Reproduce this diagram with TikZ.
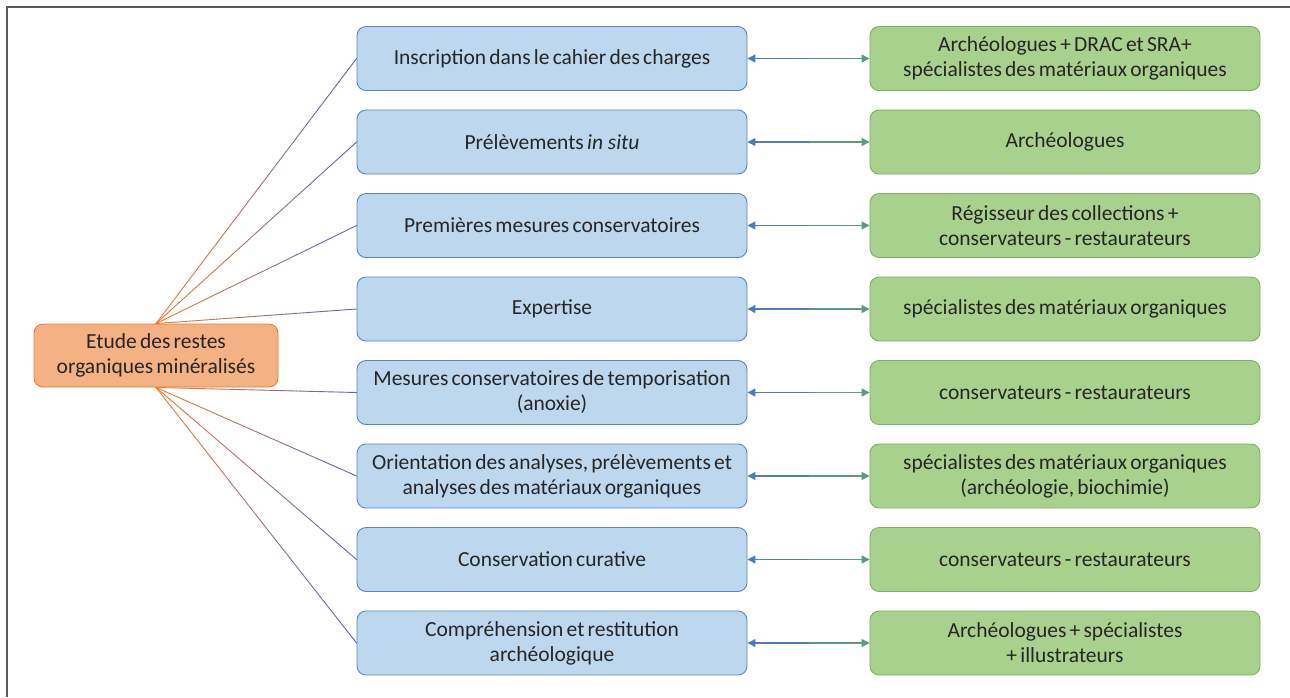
\documentclass[tikz,border=0pt]{standalone}
\usepackage{fontspec}
\setmainfont{Carlito}
\usetikzlibrary{calc,arrows.meta}
\definecolor{txt}{HTML}{262626}
\definecolor{bfill}{HTML}{BDD7EE}
\definecolor{bdraw}{HTML}{5B86B8}
\definecolor{gfill}{HTML}{A9D18E}
\definecolor{gdraw}{HTML}{7FAF5A}
\definecolor{ofill}{HTML}{F4B183}
\definecolor{odraw}{HTML}{ED7D31}
\definecolor{fanO}{HTML}{ED7D31}
\definecolor{fanB}{HTML}{5068C0}
\definecolor{ablue}{HTML}{4A7EBB}
\definecolor{agreen}{HTML}{5A9C7C}
\definecolor{frame}{HTML}{5A5A5A}
\newcommand\gradline[2]{%
  \foreach \i in {0,...,19}{%
    \pgfmathsetmacro\p{100-\i*5}%
    \pgfmathsetmacro\s{\i/20}%
    \pgfmathsetmacro\t{(\i+1)/20}%
    \draw[fanline, draw=fanO!\p!fanB] ($(#1)!\s!(#2)$) -- ($(#1)!\t!(#2)$);
  }%
}
\newcommand\boxfont{\fontsize{21.5}{25}\selectfont\fontdimen2\font=0.15em\relax}
\begin{document}
\begin{tikzpicture}[x=1pt,y=-1pt,
  box/.style={draw, rounded corners=9pt, minimum width=390pt, minimum height=64pt,
    align=center, text=txt, line width=0.9pt, inner sep=0pt,
    font=\boxfont},
  bluebox/.style={box, fill=bfill, draw=bdraw},
  greenbox/.style={box, fill=gfill, draw=gdraw},
  orangebox/.style={box, fill=ofill, draw=odraw, minimum width=244pt, minimum height=63pt},
  fanline/.style={line width=0.9pt, line cap=round},
  arrB/.style={draw=ablue, line width=1.2pt, -{Triangle[length=8pt,width=8pt]}},
  arrG/.style={draw=agreen, line width=1.2pt, -{Triangle[length=8pt,width=8pt]}}]
\useasboundingbox (0,0) rectangle (1290,697);
\fill[white] (0,0) rectangle (1290,697);
\draw[frame, line width=2pt] (7,697) -- (7,7) -- (1290,7);

\node[orangebox] (o) at (156,355.5) {Etude des restes\\organiques minéralisés};

\node[bluebox] (b1) at (552,58.5) {Inscription dans le cahier des charges};
\node[bluebox] (b2) at (552,142) {Prélèvements \textit{in situ}};
\node[bluebox] (b3) at (552,225.5) {Premières mesures conservatoires};
\node[bluebox] (b4) at (552,309) {Expertise};
\node[bluebox] (b5) at (552,392.5) {Mesures conservatoires de temporisation\\(anoxie)};
\node[bluebox] (b6) at (552,476) {Orientation des analyses, prélèvements et\\analyses des matériaux organiques};
\node[bluebox] (b7) at (552,559.5) {Conservation curative};
\node[bluebox] (b8) at (552,643) {Compréhension et restitution\\archéologique};

\node[greenbox] (g1) at (1065,58.5) {Archéologues + DRAC et SRA+\\spécialistes des matériaux organiques};
\node[greenbox] (g2) at (1065,142) {Archéologues};
\node[greenbox] (g3) at (1065,225.5) {Régisseur des collections +\\conservateurs - restaurateurs};
\node[greenbox] (g4) at (1065,309) {spécialistes des matériaux organiques};
\node[greenbox] (g5) at (1065,392.5) {conservateurs - restaurateurs};
\node[greenbox] (g6) at (1065,476) {spécialistes des matériaux organiques\\(archéologie, biochimie)};
\node[greenbox] (g7) at (1065,559.5) {conservateurs - restaurateurs};
\node[greenbox] (g8) at (1065,643) {Archéologues + spécialistes\\+ illustrateurs};

\foreach \k in {1,...,4}{\gradline{o.north}{b\k.west}}
\foreach \k in {5,...,8}{\gradline{o.south}{b\k.west}}

\foreach \k in {1,...,8}{
  \coordinate (m\k) at ($(b\k.east)!0.5!(g\k.west)$);
  \draw[arrB] (m\k) -- (b\k.east);
  \draw[arrG] (m\k) -- (g\k.west);
}
\end{tikzpicture}
\end{document}
